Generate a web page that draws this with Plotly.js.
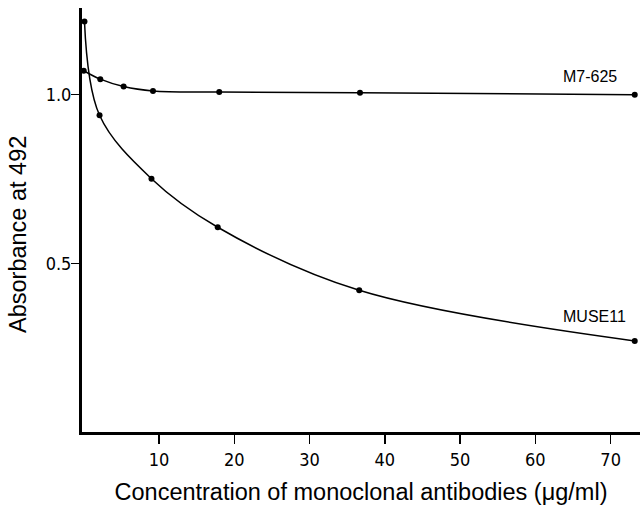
<!DOCTYPE html>
<html>
<head>
<meta charset="utf-8">
<script src="https://cdn.plot.ly/plotly-3.0.1.min.js"></script>
<style>html,body{margin:0;padding:0;background:#fff;}#chart{width:643px;height:509px;}</style>
</head>
<body>
<div id="chart"></div>
<script>
const m7Conc = [0, 2.2, 5.3, 9.2, 18.0, 36.7, 73.2];
const m7Abs = [1.071, 1.046, 1.024, 1.011, 1.008, 1.006, 1.000];
const museConc = [0.1, 2.1, 9.0, 17.8, 36.6, 73.2];
const museAbs = [1.217, 0.939, 0.751, 0.607, 0.420, 0.270];
const xTickVals = [10, 20, 30, 40, 50, 60, 70];
const yTickVals = [0.5, 1.0];
const yTickText = ["0.5", "1.0"];
const seriesNames = ["M7-625", "MUSE11"];
const xTitle = "Concentration of monoclonal antibodies (μg/ml)";
const yTitle = "Absorbance at 492";

const lineStyle = {color: "#000", width: 1.5, shape: "spline", smoothing: 1.0};
const markerStyle = {color: "#000", size: 6};

const traces = [
  {x: m7Conc, y: m7Abs, name: seriesNames[0], mode: "lines+markers", line: lineStyle, marker: markerStyle, cliponaxis: false},
  {x: museConc, y: museAbs, name: seriesNames[1], mode: "lines+markers", line: lineStyle, marker: markerStyle, cliponaxis: false}
];

const tickFont = {family: "'Liberation Sans Narrow', 'Arial Narrow', 'DejaVu Sans Condensed', sans-serif", size: 18, color: "#000"};
const titleFont = {family: "'Liberation Sans', Arial, sans-serif", size: 23.5, color: "#000"};
const labelFont = {family: "'Liberation Sans', Arial, sans-serif", size: 16, color: "#000"};

const layout = {
  width: 643, height: 509,
  margin: {l: 82, r: 3, t: 8, b: 77},
  paper_bgcolor: "#fff", plot_bgcolor: "#fff",
  showlegend: false,
  xaxis: {
    range: [-0.23, 73.9],
    tickvals: xTickVals, ticktext: xTickVals.map(String),
    ticks: "outside", ticklen: 9, tickwidth: 1.5, tickcolor: "#000",
    showline: true, linecolor: "#000", linewidth: 3,
    showgrid: false, zeroline: false,
    tickfont: tickFont,
    title: {text: xTitle, font: titleFont, standoff: 15}
  },
  yaxis: {
    range: [0.0, 1.257],
    tickvals: yTickVals, ticktext: yTickText,
    ticks: "outside", ticklen: 8, tickwidth: 1.5, tickcolor: "#000",
    ticklabelstandoff: -4,
    showline: true, linecolor: "#000", linewidth: 3,
    showgrid: false, zeroline: false,
    tickfont: tickFont
  },
  annotations: [
    {x: 67.2, y: 1.053, xref: "x", yref: "y", text: seriesNames[0], showarrow: false, xanchor: "center", yanchor: "middle", font: labelFont},
    {x: 67.9, y: 0.343, xref: "x", yref: "y", text: seriesNames[1], showarrow: false, xanchor: "center", yanchor: "middle", font: labelFont},
    {x: -0.1147, y: 0.467, xref: "paper", yref: "paper", text: yTitle, textangle: -90, showarrow: false, xanchor: "center", yanchor: "middle", font: titleFont}
  ]
};

Plotly.newPlot("chart", traces, layout, {displayModeBar: false, staticPlot: true});
</script>
</body>
</html>
